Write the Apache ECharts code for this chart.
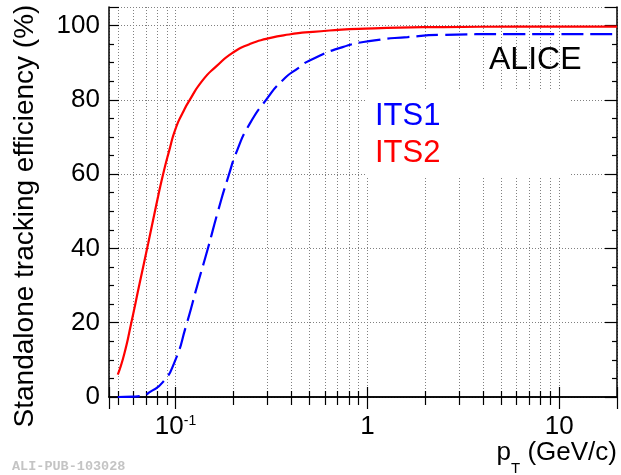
<!DOCTYPE html>
<html>
<head>
<meta charset="utf-8">
<script src="https://cdn.jsdelivr.net/npm/echarts@6/dist/echarts.min.js"></script>
<style>
  html, body { margin: 0; padding: 0; background: #fff; }
  #chart { width: 621px; height: 475px; }
</style>
</head>
<body>
<div id="chart"></div>
<script>
// ---- data ----
const its1X = [0.05, 0.06, 0.0675, 0.0733, 0.0859, 0.0988, 0.1137, 0.1306, 0.1473, 0.166, 0.187, 0.211, 0.2426, 0.2965, 0.362, 0.443, 0.5, 0.743, 1.09, 1.62, 2.47, 5.5, 20];
const its1Y = [0, 0.1, 0.4, 1.3, 4.0, 9.4, 19.3, 30.5, 39.9, 49.8, 58.8, 66.8, 73.4, 80.0, 85.3, 88.8, 90.6, 94.2, 96.0, 96.9, 97.5, 97.7, 97.7];
const its2X = [0.05, 0.054, 0.0587, 0.065, 0.072, 0.0793, 0.0859, 0.093, 0.1, 0.109, 0.118, 0.1387, 0.163, 0.199, 0.243, 0.297, 0.39, 0.52, 0.9, 2.5, 6, 20];
const its2Y = [6.0, 11.5, 19.8, 30.6, 41.3, 51.6, 59.7, 66.6, 72.2, 76.5, 79.8, 85.3, 89.0, 92.7, 95.0, 96.4, 97.6, 98.3, 99.1, 99.6, 99.7, 99.7];
const seriesNames = ['ITS1', 'ITS2'];
const xMajorTicks = [0.1, 1, 10];
const xTickLabels = ['{b|10}{s|-1}', '{b|1}', '{b|10}'];
const yTicks = [0, 20, 40, 60, 80, 100];
const yTickLabels = ['0', '20', '40', '60', '80', '100'];

const FONT = '"Liberation Sans", Arial, Helvetica, sans-serif';
const pairs = (xs, ys) => xs.map((x, i) => [x, ys[i]]);

function xLabel(v) {
  for (let i = 0; i < xMajorTicks.length; i++) {
    if (Math.abs(v - xMajorTicks[i]) < 1e-9 * xMajorTicks[i] + 1e-12) return xTickLabels[i];
  }
  return '';
}
function yLabel(v) {
  const i = yTicks.indexOf(v);
  return i >= 0 ? yTickLabels[i] : '';
}

const gridLine = { show: true, lineStyle: { color: '#808080', type: [1, 2], width: 1 } };
const axisLineStyle = { show: true, lineStyle: { color: '#000', width: 1.5 } };

const chart = echarts.init(document.getElementById('chart'), null, { renderer: 'canvas' });
chart.setOption({
  backgroundColor: '#fff',
  animation: false,
  grid: { left: 109, right: 4, top: 7, bottom: 78, containLabel: false, outerBoundsMode: 'none' },
  xAxis: [
    {
      type: 'log', logBase: 10, min: 0.045, max: 20, position: 'bottom',
      axisLine: axisLineStyle,
      axisTick: { show: true, inside: true, length: 10, lineStyle: { color: '#000', width: 1.2 } },
      minorTick: { show: true, splitNumber: 9, length: 6, lineStyle: { color: '#000', width: 1.2 } },
      splitLine: gridLine,
      minorSplitLine: gridLine,
      axisLabel: {
        show: true, interval: 0, margin: 17, color: '#000', verticalAlign: 'top',
        formatter: xLabel,
        rich: {
          b: { fontSize: 26, fontFamily: FONT, color: '#000', lineHeight: 30, verticalAlign: 'top' },
          s: { fontSize: 14, fontFamily: FONT, color: '#000', lineHeight: 14, verticalAlign: 'top' }
        }
      }
    },
    {
      type: 'log', logBase: 10, min: 0.045, max: 20, position: 'top',
      axisLine: axisLineStyle,
      axisTick: { show: true, inside: true, length: 12, lineStyle: { color: '#000', width: 1.2 } },
      minorTick: { show: true, splitNumber: 9, length: 8, lineStyle: { color: '#000', width: 1.2 } },
      splitLine: { show: false },
      axisLabel: { show: false }
    }
  ],
  yAxis: [
    {
      type: 'value', min: 0, max: 105, interval: 20, position: 'left',
      axisLine: axisLineStyle,
      axisTick: { show: true, inside: true, length: 10, lineStyle: { color: '#000', width: 1.2 } },
      minorTick: { show: true, splitNumber: 4, length: 5, lineStyle: { color: '#000', width: 1.2 } },
      splitLine: gridLine,
      axisLabel: { show: true, margin: 9, color: '#000', fontSize: 26, fontFamily: FONT, formatter: yLabel, showMaxLabel: false },
      name: 'Standalone tracking efficiency (%)',
      nameLocation: 'middle', nameGap: 70, nameRotate: 90,
      nameTextStyle: { fontSize: 28, fontFamily: FONT, color: '#000', padding: [0, 28, 0, 0] }
    },
    {
      type: 'value', min: 0, max: 105, interval: 20, position: 'right',
      axisLine: axisLineStyle,
      axisTick: { show: true, inside: true, length: 12, lineStyle: { color: '#000', width: 1.2 } },
      minorTick: { show: true, splitNumber: 4, length: 5, lineStyle: { color: '#000', width: 1.2 } },
      splitLine: { show: false },
      axisLabel: { show: false }
    }
  ],
  legend: {
    orient: 'vertical', left: 365, top: 90,
    backgroundColor: '#fff', padding: [11, 129, 9, 5], itemGap: 6,
    icon: 'none', itemWidth: 0, itemHeight: 0, selectedMode: false,
    textStyle: { fontSize: 31, fontFamily: FONT, lineHeight: 31 },
    data: [
      { name: seriesNames[0], textStyle: { color: '#0000ff' } },
      { name: seriesNames[1], textStyle: { color: '#ff0000' } }
    ]
  },
  graphic: [
    { type: 'text', left: 489, top: 44, z: 10,
      style: { text: 'ALICE', fontSize: 32, fontFamily: FONT, fill: '#000' } },
    { type: 'text', right: 4, top: 440, z: 10,
      style: {
        text: '{p|p}{sub|T}{p| (GeV/c)}',
        rich: {
          p: { fontSize: 26, fontFamily: FONT, fill: '#000', lineHeight: 30, verticalAlign: 'top' },
          sub: { fontSize: 15, fontFamily: FONT, fill: '#000', lineHeight: 15, padding: [21, 0, 0, 0], verticalAlign: 'top' }
        }
      } },
    { type: 'text', left: 12, top: 460, z: 10,
      style: { text: 'ALI-PUB-103028', fontSize: 13.5, fontWeight: 'bold', fontFamily: '"Liberation Mono", "DejaVu Sans Mono", monospace', fill: '#c4c4c4' } }
  ],
  series: [
    {
      name: seriesNames[0], type: 'line', xAxisIndex: 0, yAxisIndex: 0,
      data: pairs(its1X, its1Y), showSymbol: false, smooth: 0.6,
      lineStyle: { color: '#0000ff', width: 2.2, type: [22, 7] },
      itemStyle: { color: '#0000ff' }, z: 3
    },
    {
      name: seriesNames[1], type: 'line', xAxisIndex: 0, yAxisIndex: 0,
      data: pairs(its2X, its2Y), showSymbol: false, smooth: 0.6,
      lineStyle: { color: '#ff0000', width: 2.2 },
      itemStyle: { color: '#ff0000' }, z: 4
    }
  ]
});
</script>
</body>
</html>
